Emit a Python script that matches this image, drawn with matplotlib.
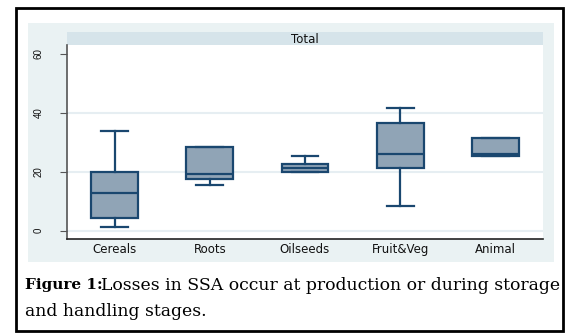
import matplotlib.pyplot as plt
from matplotlib.patches import Rectangle

# box statistics
categories = ['Cereals', 'Roots', 'Oilseeds', 'Fruit&Veg', 'Animal']
whislo = [1.4, 15.6, 20.0, 8.3, 25.3]
q1 = [4.2, 17.4, 20.0, 21.3, 25.3]
med = [12.9, 19.1, 21.4, 26.0, 26.0]
q3 = [20.0, 28.5, 22.6, 36.4, 31.3]
whishi = [33.8, 28.5, 25.3, 41.5, 31.3]
yticks = [0, 20, 40, 60]

W, H = 568, 334
fig = plt.figure(figsize=(W / 100, H / 100), dpi=100)
fig.patch.set_facecolor('white')

def box(x0, y0, x1, y1):
    # pixel coords (top-left origin) -> figure fraction
    return [x0 / W, 1 - y1 / H, (x1 - x0) / W, (y1 - y0) / H]

# black frame around figure + caption
fig.patches.append(Rectangle((16 / W, 1 - 331 / H), 547 / W, 323 / H,
                             transform=fig.transFigure, fill=False,
                             edgecolor='black', linewidth=2, zorder=5))
# stata graph region
fig.patches.append(Rectangle((28 / W, 1 - 262 / H), 526 / W, 239 / H,
                             transform=fig.transFigure, facecolor='#eaf2f3',
                             edgecolor='none', zorder=-5))

# title strip
sax = fig.add_axes(box(67, 32, 543, 45))
sax.set_facecolor('#d6e4ea')
sax.set_xticks([])
sax.set_yticks([])
for s in sax.spines.values():
    s.set_visible(False)
sax.text(0.5, 0.45, 'Total', ha='center', va='center', fontsize=8.5,
         family='DejaVu Sans', color='#111111')

ax = fig.add_axes(box(67, 45, 543, 239))
ax.set_facecolor('white')

stats = []
for i, c in enumerate(categories):
    stats.append({'label': c, 'whislo': whislo[i], 'q1': q1[i], 'med': med[i],
                  'q3': q3[i], 'whishi': whishi[i], 'fliers': []})

navy = '#1a476f'
ax.bxp(stats, positions=range(1, 6), widths=0.49, capwidths=0.28,
       patch_artist=True, showfliers=False,
       boxprops=dict(facecolor='#90a4b6', edgecolor=navy, linewidth=1.6),
       medianprops=dict(color=navy, linewidth=1.6),
       whiskerprops=dict(color=navy, linewidth=1.6),
       capprops=dict(color=navy, linewidth=1.6))

ax.set_xlim(0.5, 5.5)
ax.set_ylim(-2.8, 62.9)
ax.set_yticks(yticks)
ax.set_yticklabels([str(t) for t in yticks], rotation=90, va='center',
                   fontsize=7, family='Liberation Sans', color='#111111')
for t in [0, 20, 40]:
    ax.axhline(t, color='#e6eef2', linewidth=1.5, zorder=0)
ax.tick_params(axis='y', length=5, width=0.8, color='#555555', pad=12)
ax.tick_params(axis='x', length=0, pad=3, labelsize=8.5)
for lab in ax.get_xticklabels():
    lab.set_family('DejaVu Sans')
    lab.set_color('#111111')
ax.spines['top'].set_visible(False)
ax.spines['right'].set_visible(False)
ax.spines['left'].set_color('#555555')
ax.spines['left'].set_linewidth(1.2)
ax.spines['bottom'].set_color('#222222')
ax.spines['bottom'].set_linewidth(1.2)

# caption
fig.text(25 / W, 1 - 285 / H, 'Figure 1:', fontsize=11, fontweight='bold',
         family='DejaVu Serif', va='center')
fig.text(101 / W, 1 - 285 / H, 'Losses in SSA occur at production or during storage',
         fontsize=12.4, family='DejaVu Serif', va='center')
fig.text(25 / W, 1 - 311 / H, 'and handling stages.', fontsize=12.4,
         family='DejaVu Serif', va='center')

fig.savefig('out.png', dpi=100)
